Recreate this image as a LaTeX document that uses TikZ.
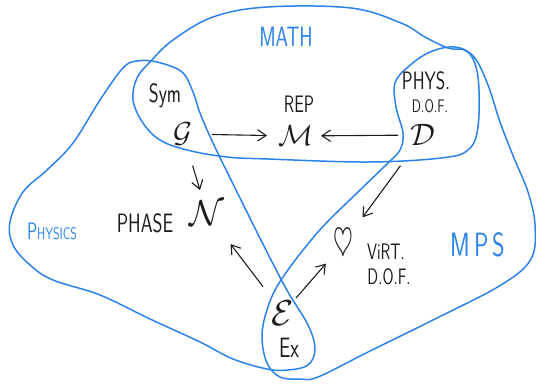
\RequirePackage{fix-cm}
\documentclass[tikz,border=0pt]{standalone}
\usepackage{graphicx}
\usepackage{tikz}
\usetikzlibrary{arrows.meta}
\definecolor{penblue}{HTML}{2A82EA}
\definecolor{ink}{HTML}{1C1C1C}
\newcommand{\hand}[1]{\scalebox{1}[1.4]{#1}}
\tikzset{
  blob/.style={draw=penblue, line width=1.5pt, line join=round},
  tag/.style={text=penblue, font=\sffamily, inner sep=1pt},
  lbl/.style={text=ink, font=\sffamily, align=center, inner sep=1pt},
  sym/.style={text=ink, inner sep=0pt},
  arr/.style={-{Straight Barb[length=3mm, width=4mm]}, line width=1.1pt, ink},
}

\begin{document}
\begin{tikzpicture}[x=1pt, y=-1pt]
\useasboundingbox (0,0) rectangle (536,384);
% the three regions
\draw[blob] plot[smooth cycle, tension=0.6] coordinates {
  (137,78) (150,62) (173,40) (213,17) (267,7) (351,8) (401,23) (425,37) (448,48)
  (468,52) (478,77) (478,127) (468,150) (441,158) (368,162) (268,159) (227,157)
  (187,150) (160,140) (143,123) (133,100)};
\draw[blob] plot[smooth cycle, tension=0.6] coordinates {
  (267,369) (288,370) (308,365) (315,349) (308,325) (288,292) (268,254) (237,192)
  (213,143) (200,113) (193,92) (182,72) (157,62) (137,61) (123,68) (100,100)
  (73,143) (47,170) (23,192) (10,222) (13,245) (30,265) (53,280) (100,295)
  (150,319) (200,342) (233,359)};
\draw[blob] plot[smooth cycle, tension=0.6] coordinates {
  (400,150) (388,163) (358,192) (318,232) (281,280) (267,310) (262,337) (267,363)
  (280,377) (300,379) (318,377) (368,352) (435,319) (501,285) (531,259) (535,225)
  (528,192) (514,158) (500,122) (488,85) (474,57) (455,47) (430,52) (408,67)
  (395,83) (396,107) (403,133)};

\node[tag, font=\sffamily\fontsize{20}{20}\selectfont] (math) at (286,37) {\hand{MATH}};
\node[tag, font=\sffamily\fontsize{24}{24}\selectfont] (mps) at (478,245) {\hand{M\,P\,S}};
\node[tag] (physics) at (52,231) {\hand{{\fontsize{17}{17}\selectfont P}{\fontsize{12}{12}\selectfont HYSICS}}};

\node[lbl, font=\sffamily\fontsize{19}{19}\selectfont] (symlbl) at (165,96) {\hand{Sym}};
\node[lbl, font=\sffamily\fontsize{17}{17}\selectfont] (replbl) at (299,104) {\hand{REP}};
\node[lbl, font=\sffamily\fontsize{18}{18}\selectfont] (physlbl) at (426,81) {\hand{PHYS.}};
\node[lbl, font=\sffamily\fontsize{13}{13}\selectfont] (doflbl) at (430,106) {\hand{D.O.F.}};
\node[lbl, font=\sffamily\fontsize{19}{19}\selectfont] (phaselbl) at (145,223) {\hand{PHASE}};
\node[lbl, font=\sffamily\fontsize{16}{16}\selectfont] (virtlbl) at (386,252) {\hand{ViRT.}};
\node[lbl, font=\sffamily\fontsize{16}{16}\selectfont] (vdoflbl) at (389,277) {\hand{D.O.F.}};
\node[lbl, font=\sffamily\fontsize{20}{20}\selectfont] (exlbl) at (289,348) {\hand{Ex}};

\node[sym, font=\fontsize{29}{29}\selectfont] (G) at (183,134) {$\mathcal{G}$};
\node[sym, font=\fontsize{29}{29}\selectfont] (M) at (296,136) {$\mathcal{M}$};
\node[sym, font=\fontsize{31}{31}\selectfont] (D) at (423,135) {$\mathcal{D}$};
\node[sym, font=\fontsize{36}{36}\selectfont] (N) at (207,213) {$\mathcal{N}$};
\node[sym, font=\fontsize{36}{36}\selectfont] (E) at (283,313) {$\mathcal{E}$};
\node[sym, font=\fontsize{30}{30}\selectfont] (V) at (343,244) {\scalebox{0.85}[1.3]{$\heartsuit$}};

\draw[arr, shorten <=29pt, shorten >=29pt] (G.center) -- (M.center);
\draw[arr, shorten <=25pt, shorten >=25pt] (D.center) -- (M.center);
\draw[arr, shorten <=33pt, shorten >=24pt] (G.center) -- (N.center);
\draw[arr, shorten <=38pt, shorten >=33pt] (D.center) -- (V.center);
\draw[arr, shorten <=33pt, shorten >=39pt] (E.center) -- (N.center);
\draw[arr, shorten <=20pt, shorten >=26pt] (E.center) -- (V.center);
\end{tikzpicture}
\end{document}
